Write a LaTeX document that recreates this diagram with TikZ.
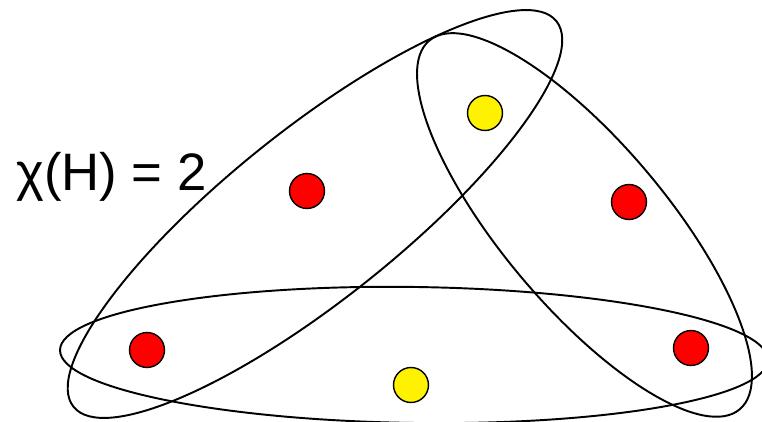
\documentclass[tikz,border=0pt]{standalone}
\usepackage{fontspec}
\setmainfont{Liberation Sans}

\begin{document}
\begin{tikzpicture}[x=0.02cm, y=-0.02cm,
  vtx/.style={circle, draw=black, line width=0.8pt, minimum size=0.7cm, inner sep=0pt},
  hedge/.style={draw=black, line width=1.1pt}
]
  % Frame: 762 x 422 grid, ellipses run off the edges
  \useasboundingbox (0,0) rectangle (762,422);
  \clip (0,0) rectangle (762,422);
  % Hyperedges: name/cx/cy/angle/x radius/y radius
  \foreach \e/\cx/\cy/\ang/\ra/\rb in {
    eA/315/214/38.6/309/85,
    eB/584.5/225/-49.9/241/82,
    eC/414/355/-0.8/354/68%
  }{
    \coordinate (\e) at (\cx,\cy);
    \draw[hedge, rotate around={\ang:(\e)}] (\e) ellipse [x radius=\ra, y radius=\rb];
  }
  % Vertices: name/x/y/colour
  \foreach \v/\x/\y/\c in {
    v1/485/113/yellow, v2/307/191/red, v3/629/202/red,
    v4/147/350/red, v5/411/385/yellow, v6/691/348/red%
  }{
    \node[vtx, fill=\c] (\v) at (\x,\y) {};
  }
  % Chromatic number
  \node[anchor=base west, inner sep=0pt, font=\fontsize{30}{33}\selectfont] (chi) at (16,191) {χ(H) = 2};
\end{tikzpicture}
\end{document}
